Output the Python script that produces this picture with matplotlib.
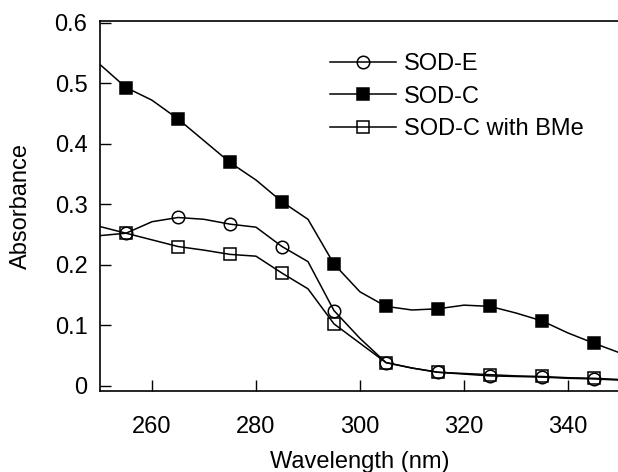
import matplotlib
matplotlib.use('Agg')
import matplotlib.pyplot as plt

plt.rcParams['font.family'] = ['Liberation Sans', 'DejaVu Sans']

# wavelength grid (nm), read every 5 nm from the figure
wavelength = [250, 255, 260, 265, 270, 275, 280, 285, 290, 295, 300,
              305, 310, 315, 320, 325, 330, 335, 340, 345, 350]
sod_e = [0.248, 0.252, 0.271, 0.278, 0.275, 0.267, 0.262, 0.230, 0.205, 0.124, 0.078,
         0.038, 0.029, 0.022, 0.019, 0.016, 0.015, 0.014, 0.012, 0.011, 0.009]
sod_c = [0.531, 0.493, 0.472, 0.441, 0.405, 0.369, 0.340, 0.304, 0.275, 0.201, 0.155,
         0.131, 0.125, 0.127, 0.133, 0.131, 0.120, 0.107, 0.087, 0.070, 0.054]
sod_c_bme = [0.263, 0.252, 0.241, 0.230, 0.224, 0.217, 0.214, 0.186, 0.160, 0.102, 0.070,
             0.038, 0.029, 0.022, 0.020, 0.018, 0.016, 0.015, 0.013, 0.012, 0.010]

labels = ['SOD-E', 'SOD-C', 'SOD-C with BMe']
x_ticks = [260, 280, 300, 320, 340]
y_ticks = [0, 0.1, 0.2, 0.3, 0.4, 0.5, 0.6]
y_ticklabels = ['0', '0.1', '0.2', '0.3', '0.4', '0.5', '0.6']

fig = plt.figure(figsize=(6.18, 4.72), dpi=100)
ax = fig.add_axes([0.1618, 0.1716, 0.8414, 0.7839])

marks = slice(1, None, 2)
common = dict(color='black', lw=1.1, markevery=marks, markersize=9, mew=1.1)
ax.plot(wavelength, sod_e, marker='o', mfc='none', label=labels[0], **common)
ax.plot(wavelength, sod_c, marker='s', mfc='black', label=labels[1], **common)
ax.plot(wavelength, sod_c_bme, marker='s', mfc='none', label=labels[2], **common)

ax.set_xlim(250, 350)
ax.set_ylim(-0.009, 0.603)
ax.set_xticks(x_ticks)
ax.set_yticks(y_ticks)
ax.set_yticklabels(y_ticklabels)
ax.tick_params(direction='in', length=8, width=1, labelsize=17)
ax.tick_params(axis='x', pad=18)
ax.tick_params(axis='y', pad=9)
for side in ['left', 'bottom', 'top']:
    ax.spines[side].set_linewidth(1.2)

ax.set_xlabel('Wavelength (nm)', fontsize=17, labelpad=9)
ax.set_ylabel('Absorbance', fontsize=17, labelpad=16)

leg = ax.legend(loc='upper left', bbox_to_anchor=(330 / 618, 1 - 53 / 472),
                bbox_transform=fig.transFigure, frameon=False, fontsize=17,
                handlelength=2.8, handletextpad=0.35, labelspacing=0.45,
                borderpad=0, borderaxespad=0)

fig.savefig('out.png', dpi=100)
